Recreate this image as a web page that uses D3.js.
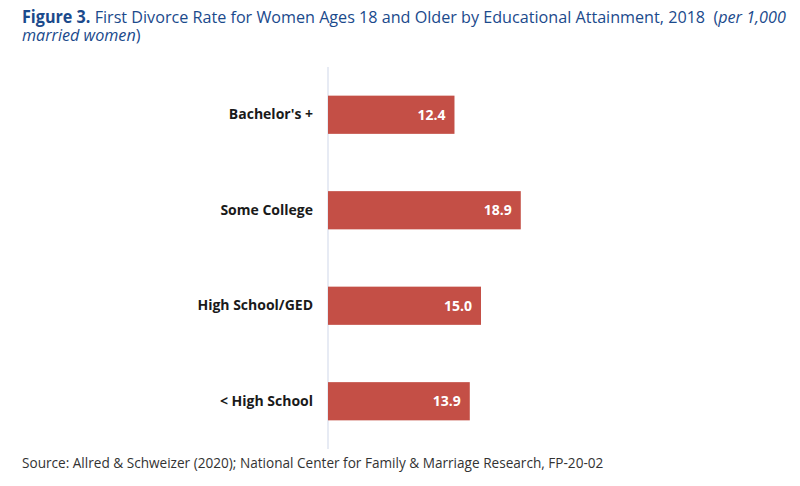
<!DOCTYPE html>
<html>
<head>
<meta charset="utf-8">
<script src="https://cdn.jsdelivr.net/npm/d3@7"></script>
<style>
  body { margin: 0; background: #fff; }
  svg { font-family: "Open Sans", sans-serif; }
</style>
</head>
<body>
<svg id="chart" width="800" height="486"></svg>
<script>
var categories = ["Bachelor's +", "Some College", "High School/GED", "< High School"];
var values = [12.4, 18.9, 15.0, 13.9];

var svg = d3.select("#chart");

// title, squeezed horizontally to match the narrow face of the original
var tg = svg.append("g");
var title = tg.append("text")
    .attr("x", 0)
    .attr("y", 23)
    .attr("xml:space", "preserve")
    .style("font-size", "17px")
    .style("fill", "#1b4a8c");
title.append("tspan").style("font-weight", "bold").text("Figure 3.");
title.append("tspan").text(" First Divorce Rate for Women Ages 18 and Older by Educational Attainment, 2018  (");
title.append("tspan").style("font-style", "italic").text("per 1,000");
var title2 = tg.append("text")
    .attr("x", 0)
    .attr("y", 41)
    .style("font-size", "17px")
    .style("fill", "#1b4a8c");
title2.append("tspan").style("font-style", "italic").text("married women");
title2.append("tspan").text(")");
var tw = title.node().getComputedTextLength();
var sx = 764 / tw;
tg.attr("transform", "translate(22,0) scale(" + sx + ",1)");

var x = d3.scaleLinear()
    .domain([0, 20])
    .range([328, 532]);

var y = d3.scaleBand()
    .domain(categories)
    .range([67, 449])
    .paddingInner(0.6)
    .paddingOuter(0.3);

// axis line
svg.append("line")
    .attr("x1", x(0)).attr("x2", x(0))
    .attr("y1", 67).attr("y2", 449)
    .style("stroke", "#dfe5f0")
    .style("stroke-width", 1.5);

var yAxis = d3.axisLeft(y).tickSize(0).tickPadding(15);
var ag = svg.append("g")
    .attr("transform", "translate(" + x(0) + ",0)")
    .call(yAxis);
ag.select(".domain").remove();
ag.selectAll("text")
    .style("font-family", "Open Sans, sans-serif")
    .style("font-size", "14px")
    .style("font-weight", "bold")
    .style("fill", "#1a1a1a");

var data = categories.map(function(c, i){ return {label: c, value: values[i]}; });

svg.selectAll("rect.bar")
    .data(data)
    .enter()
    .append("rect")
    .attr("class", "bar")
    .attr("x", x(0))
    .attr("y", function(d){ return y(d.label); })
    .attr("width", function(d){ return x(d.value) - x(0); })
    .attr("height", y.bandwidth())
    .style("fill", "#c44f46");

svg.selectAll("text.val")
    .data(data)
    .enter()
    .append("text")
    .attr("class", "val")
    .attr("x", function(d){ return x(d.value) - 9; })
    .attr("y", function(d){ return y(d.label) + y.bandwidth() / 2; })
    .attr("dy", "0.35em")
    .style("text-anchor", "end")
    .style("font-size", "14px")
    .style("font-weight", "bold")
    .style("fill", "#fff")
    .text(function(d){ return d.value.toFixed(1); });

svg.append("text")
    .attr("x", 22)
    .attr("y", 468)
    .style("font-size", "13.6px")
    .style("fill", "#333")
    .text("Source: Allred & Schweizer (2020); National Center for Family & Marriage Research, FP-20-02");
</script>
</body>
</html>
